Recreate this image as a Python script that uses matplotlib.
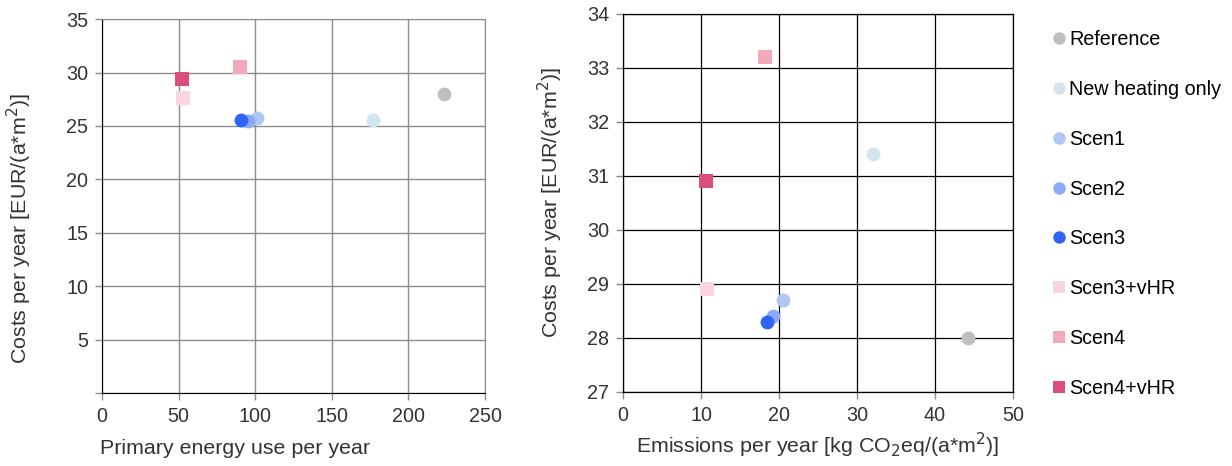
import matplotlib
matplotlib.use("Agg")
import matplotlib.pyplot as plt
from matplotlib.lines import Line2D

plt.rcParams['font.family'] = ['Liberation Sans', 'DejaVu Sans']

scenarios = ["Reference", "New heating only", "Scen1", "Scen2", "Scen3",
             "Scen3+vHR", "Scen4", "Scen4+vHR"]
colors = ["#BFBFBF", "#D3E5EE", "#AFC7F4", "#8EA9F8", "#3264FA",
          "#FAD5DF", "#F2A9BB", "#DB4E7C"]
markers = ["o", "o", "o", "o", "o", "s", "s", "s"]

primary_energy = [223, 177, 101, 95, 91, 53, 90, 52]
costs_left = [28.0, 25.6, 25.7, 25.5, 25.6, 27.6, 30.5, 29.4]

emissions = [44.2, 32.0, 20.5, 19.2, 18.5, 10.8, 18.2, 10.6]
costs_right = [28.0, 31.4, 28.7, 28.4, 28.3, 28.9, 33.2, 30.9]

fig = plt.figure(figsize=(12.32, 4.66), dpi=100)
ax1 = fig.add_axes([0.0828, 0.1567, 0.3109, 0.8023])
ax2 = fig.add_axes([0.5057, 0.1588, 0.3165, 0.8112])

fs = 14.2
fs_lab = 15.4
tc = "#333333"

for i, name in enumerate(scenarios):
    ms = 10 if markers[i] == "o" else 9.5
    ax1.plot(primary_energy[i], costs_left[i], linestyle="none", marker=markers[i],
             color=colors[i], markersize=ms, markeredgewidth=0, zorder=3)
    ax2.plot(emissions[i], costs_right[i], linestyle="none", marker=markers[i],
             color=colors[i], markersize=ms, markeredgewidth=0, zorder=3)

ax1.set_xlim(0, 250)
ax1.set_ylim(0, 35)
ax1.set_xticks(range(0, 251, 50))
ax1.set_yticks(range(0, 36, 5))
ax1.set_yticklabels([""] + [str(v) for v in range(5, 36, 5)])
ax1.grid(True, color="#8C8C8C", linewidth=1.0)
ax1.set_axisbelow(True)
for s in ax1.spines.values():
    s.set_color("#8C8C8C")
ax1.spines['bottom'].set_color("black")
ax1.spines['left'].set_color("black")
ax1.tick_params(labelsize=fs, length=5, color="#8C8C8C", width=1.0, pad=5)
ax1.set_xlabel("Primary energy use per year", fontsize=fs_lab, color=tc, ha="left")
ax1.xaxis.set_label_coords(-0.005, -0.122)
ax1.set_ylabel("Costs per year [EUR/(a*m$^2$)]", fontsize=fs_lab, color=tc)
ax1.yaxis.set_label_coords(-0.178, 0.44)

ax2.set_xlim(0, 50)
ax2.set_ylim(27, 34)
ax2.set_xticks(range(0, 51, 10))
ax2.set_yticks(range(27, 35, 1))
ax2.grid(True, color="black", linewidth=0.9)
ax2.set_axisbelow(True)
for s in ax2.spines.values():
    s.set_color("black")
    s.set_linewidth(0.9)
ax2.tick_params(labelsize=fs, length=5, color="#8C8C8C", width=1.0, pad=5)
ax2.set_xlabel("Emissions per year [kg CO$_2$eq/(a*m$^2$)]", fontsize=fs_lab, color=tc)
ax2.xaxis.set_label_coords(0.5, -0.102)
ax2.set_ylabel("Costs per year [EUR/(a*m$^2$)]", fontsize=fs_lab, color=tc)
ax2.yaxis.set_label_coords(-0.15, 0.5)

for ax in (ax1, ax2):
    for lab in ax.get_xticklabels() + ax.get_yticklabels():
        lab.set_color(tc)

handles = [Line2D([], [], linestyle="none", marker=markers[i], color=colors[i],
                  markersize=9 if markers[i] == "o" else 8.5, markeredgewidth=0)
           for i in range(len(scenarios))]
fig.legend(handles, scenarios, loc="upper left", bbox_to_anchor=(0.848, 0.952),
           frameon=False, fontsize=fs, handlelength=0.6, handletextpad=0.25,
           labelspacing=1.56, borderaxespad=0)

fig.savefig("out.png", dpi=100)
